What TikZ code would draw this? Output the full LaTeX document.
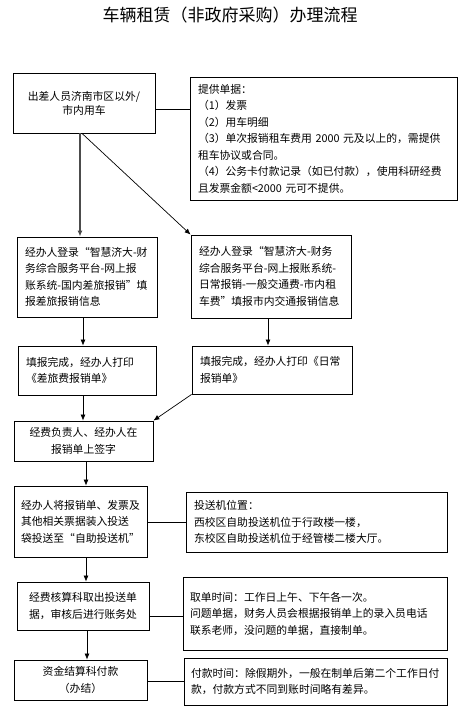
\documentclass[tikz,border=0pt]{standalone}
\usepackage{fontspec}
\newfontfamily\cjk{Noto Sans CJK SC}
\usetikzlibrary{arrows.meta}
\tikzset{
  box/.style={draw, line width=0.8pt, inner xsep=8pt, inner ysep=0pt,
    font=\cjk\fontsize{10.8}{16.5}\selectfont},
  arr/.style={line width=0.7pt, -{Latex[length=6pt,width=5pt]}},
  link/.style={line width=0.7pt},
}
\begin{document}
\begin{tikzpicture}[x=1pt,y=-1pt]
\useasboundingbox (0,0) rectangle (466,720);
\node[font=\cjk\fontsize{17}{19}\selectfont] (title) at (230,15) {车辆租赁（非政府采购）办理流程};

\node[box, minimum width=142pt, minimum height=60pt, align=center, font=\cjk\fontsize{10.8}{14}\selectfont] (b1) at (84,103)
  {出差人员济南市区以外/\\市内用车};
\node[box, minimum height=123pt, text width=251pt, align=left] (i1) at (323.5,138.5)
  {提供单据：\\（1）发票\\（2）用车明细\\（3）单次报销租车费用 2000 元及以上的，需提供\\租车协议或合同。\\（4）公务卡付款记录（如已付款），使用科研经费\\且发票金额<2000 元可不提供。};

\node[box, minimum height=80pt, text width=124pt, align=left] (b2l) at (87,277)
  {经办人登录“智慧济大-财\\务综合服务平台-网上报\\账系统-国内差旅报销”填\\报差旅报销信息};
\node[box, minimum height=83pt, text width=144pt, align=left] (b2r) at (271,276.5)
  {经办人登录“智慧济大-财务\\综合服务平台-网上报账系统-\\日常报销-一般交通费-市内租\\车费”填报市内交通报销信息};

\node[box, minimum height=49pt, text width=122pt, align=left] (b3l) at (87,370.5)
  {填报完成，经办人打印\\《差旅费报销单》};
\node[box, minimum height=48pt, text width=144pt, align=left] (b3r) at (272,370)
  {填报完成，经办人打印《日常\\报销单》};

\node[box, minimum width=139pt, minimum height=40pt, align=center] (b4) at (83.5,441)
  {经费负责人、经办人在\\报销单上签字};

\node[box, minimum height=71pt, text width=119pt, inner xsep=7pt, align=left] (b5) at (80.5,521.5)
  {经办人将报销单、发票及\\其他相关票据装入投送\\袋投送至“自助投送机”};
\node[box, minimum height=60pt, text width=245pt, align=left] (i2) at (316.5,522)
  {投送机位置：\\西校区自助投送机位于行政楼一楼，\\东校区自助投送机位于经管楼二楼大厅。};

\node[box, minimum width=132pt, minimum height=48pt, align=center] (b6) at (83,606)
  {经费核算科取出投送单\\据，审核后进行账务处};
\node[box, minimum height=73pt, text width=250pt, inner xsep=7pt, align=left] (i3) at (315,613.5)
  {取单时间：工作日上午、下午各一次。\\问题单据，财务人员会根据报销单上的录入员电话\\联系老师，没问题的单据，直接制单。};

\node[box, minimum width=133pt, minimum height=40pt, align=center] (b7) at (80.5,680)
  {资金结算科付款\\（办结）};
\node[box, minimum height=47pt, text width=249pt, inner xsep=7pt, align=left] (i4) at (315.5,681.5)
  {付款时间：除假期外，一般在制单后第二个工作日付\\款，付款方式不同到账时间略有差异。};

% connectors
\draw[arr, line width=1.3pt, black!70] (b1.south -| 80,0) -- (b2l.north -| 80,0);
\draw[arr] (b1.south -| 82,0) -- (b2r.north west);
\draw[arr] (b2l.south -| 83,0) -- (b3l.north -| 83,0);
\draw[arr] (b2r.south -| 268,0) -- (b3r.north -| 268,0);
\draw[arr] (b3l.south -| 83,0) -- (b4.north -| 83,0);
\draw[arr] (b3r.south west) -- (b4.north east);
\draw[arr] (b4.south -| 86,0) -- (b5.north -| 86,0);
\draw[arr] (b5.south -| 86,0) -- (b6.north -| 86,0);
\draw[arr] (b6.south -| 87,0) -- (b7.north -| 87,0);

\draw[link] (b1.east |- 0,109) -- (i1.west |- 0,109);
\draw[link] (b5.east |- 0,522) -- (i2.west |- 0,522);
\draw[link] (b6.east |- 0,616) -- (i3.west |- 0,616);
\draw[link] (b7.east |- 0,681) -- (i4.west |- 0,681);
\end{tikzpicture}
\end{document}
